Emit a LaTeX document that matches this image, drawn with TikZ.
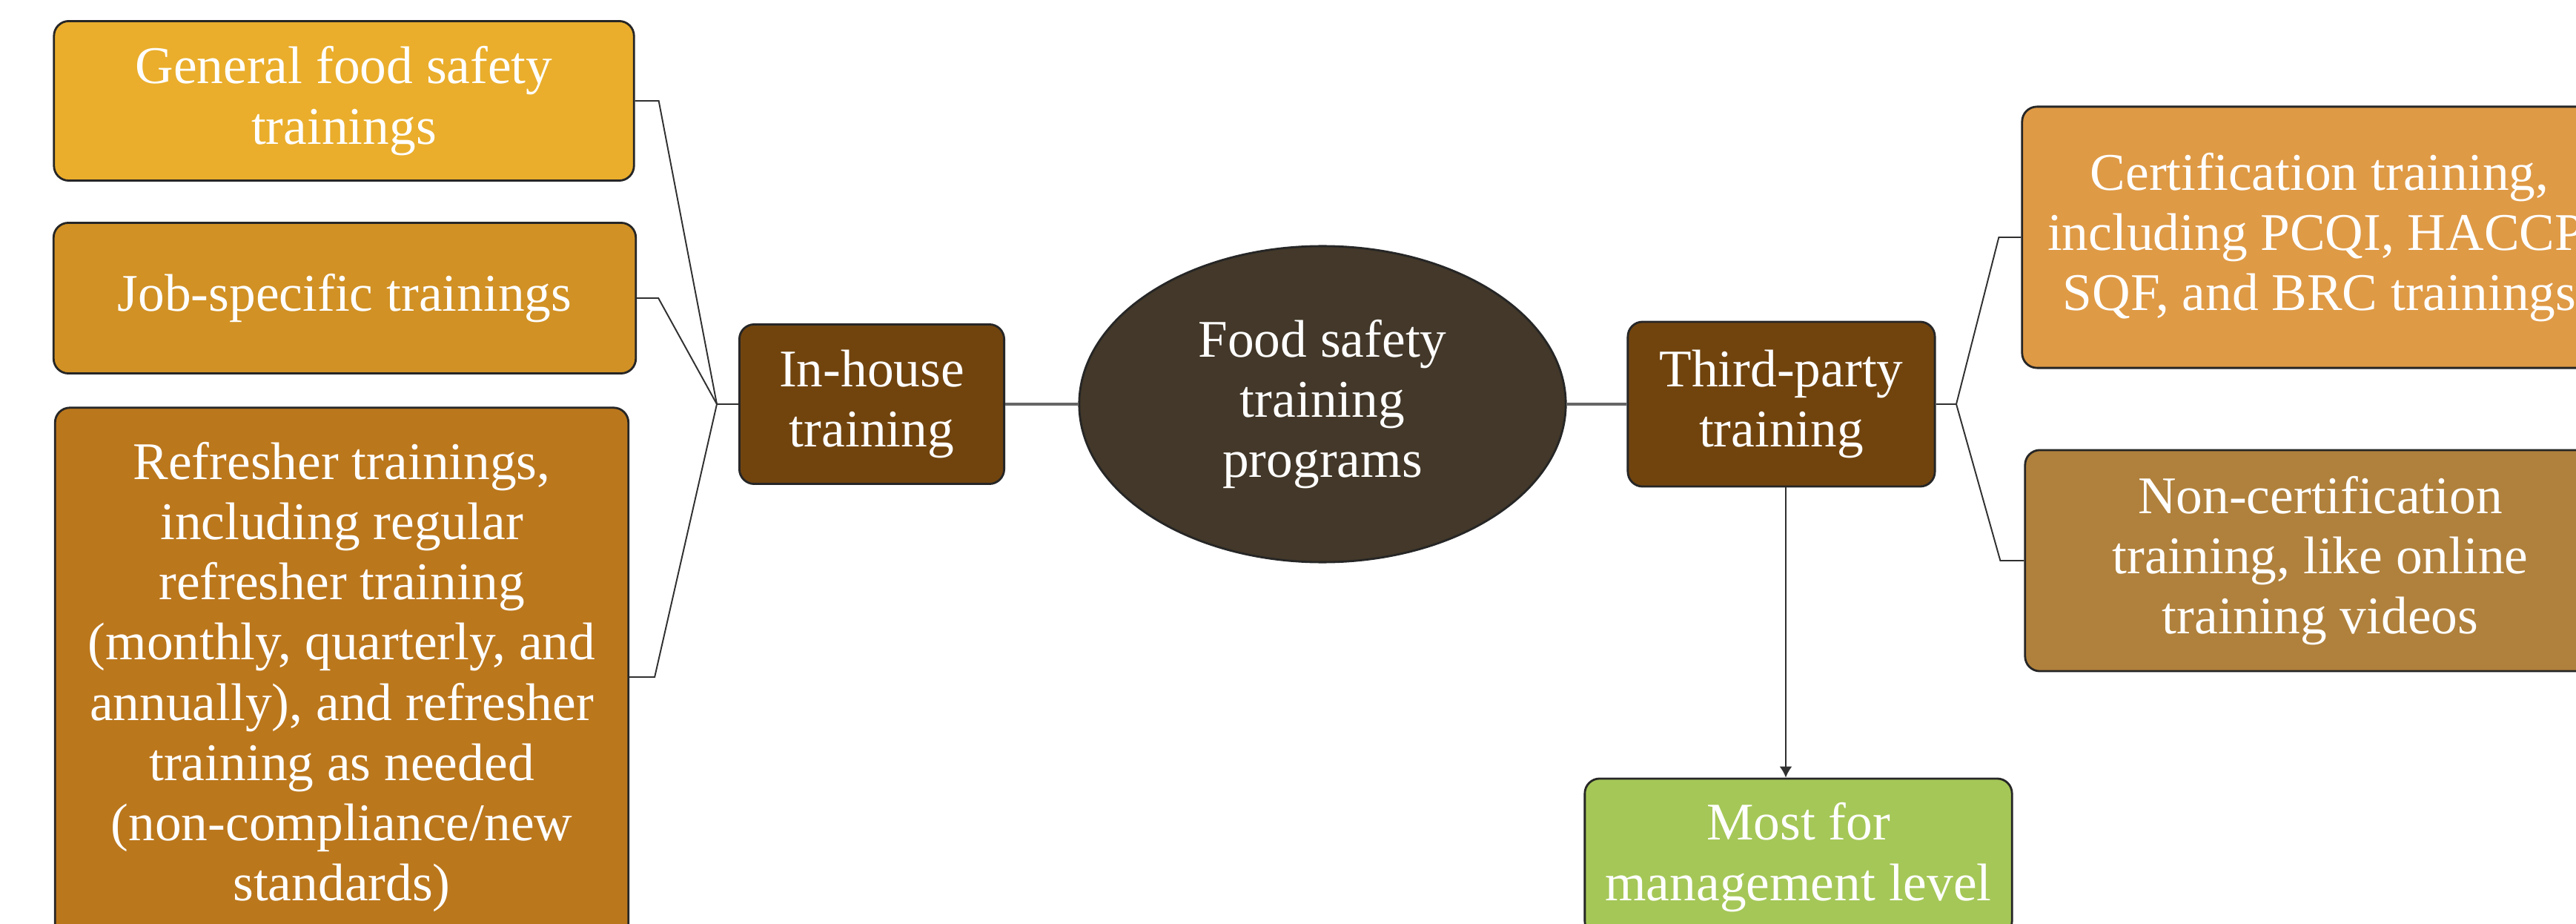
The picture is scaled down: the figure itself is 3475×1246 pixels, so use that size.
\documentclass[tikz,border=0pt]{standalone}
\usepackage{fontspec}
\setmainfont{Liberation Serif}
\usetikzlibrary{calc,arrows.meta,shapes.geometric}
\definecolor{cGen}{HTML}{EAAE2C}
\definecolor{cJob}{HTML}{D19124}
\definecolor{cRef}{HTML}{BB771C}
\definecolor{cMid}{HTML}{71440E}
\definecolor{cEll}{HTML}{433829}
\definecolor{cCert}{HTML}{DF9A45}
\definecolor{cNon}{HTML}{B0813C}
\definecolor{cGreen}{HTML}{A5C757}
\definecolor{cLine}{HTML}{303030}
\tikzset{
  box/.style={draw=black!85, line width=0.8pt, rounded corners=0.2cm, text=white,
    align=center, inner sep=0pt, font=\fontsize{20.3}{23.1}\selectfont},
  conn/.style={draw=cLine, line width=0.55pt},
  thickconn/.style={draw=black!60, line width=1.1pt},
}
\begin{document}
\begin{tikzpicture}[x=0.01cm,y=-0.01cm]
\useasboundingbox (0,0) rectangle (3475,1246);
\clip (0,0) rectangle (3475,1246);
\fill[white] (0,0) rectangle (3475,1246);

% left column
\node[box, fill=cGen, minimum width=7.82cm, minimum height=2.15cm] (gen) at (464,136) {General food safety\\trainings};
\node[box, fill=cJob, minimum width=7.85cm, minimum height=2.03cm] (job) at (465,402) {Job-specific trainings};
\node[box, fill=cRef, minimum width=7.73cm, minimum height=7.26cm] (ref) at (461,913) {Refresher trainings,\\including regular\\refresher training\\(monthly, quarterly, and\\annually), and refresher\\training as needed\\(non-compliance/new\\standards)};

% middle
\node[box, fill=cMid, minimum width=3.57cm, minimum height=2.15cm] (inh) at (1176,545) {In-house\\training};
\node[box, ellipse, rounded corners=0pt, fill=cEll, minimum width=6.56cm, minimum height=4.26cm] (ell) at (1784,545) {Food safety\\training\\programs};
\node[box, fill=cMid, minimum width=4.14cm, minimum height=2.22cm] (third) at (2403,545) {Third-party\\training};

% right column
\node[box, fill=cCert, minimum width=8.02cm, minimum height=3.52cm] (cert) at (3129,320) {Certification training,\\including PCQI, HACCP,\\SQF, and BRC trainings};
\node[box, fill=cNon, minimum width=7.96cm, minimum height=2.98cm] (non) at (3130,756) {Non-certification\\training, like online\\training videos};

% bottom
\node[box, fill=cGreen, minimum width=5.76cm, minimum height=2.12cm] (mgmt) at (2426,1156) {Most for\\management level};

% junctions
\coordinate (J1) at (967,545);
\coordinate (J2) at (2639,545);

% connectors
\draw[thickconn] (inh.east) -- (ell.west);
\draw[thickconn] (ell.east) -- (third.west);
\draw[conn] (inh.west) -- (J1);
\draw[conn] (J1) -- ($(gen.east)+(32,0)$) -- (gen.east);
\draw[conn] (J1) -- ($(job.east)+(29,0)$) -- (job.east);
\draw[conn] (J1) -- ($(ref.east)+(34,0)$) -- (ref.east);
\draw[conn] (third.east) -- (J2);
\draw[conn] (J2) -- ($(cert.west)+(-30,0)$) -- (cert.west);
\draw[conn] (J2) -- ($(non.west)+(-32,0)$) -- (non.west);
\draw[conn, -{Latex[length=0.15cm,width=0.17cm]}] ($(third.south)+(6,0)$) -- ($(third.south |- mgmt.north)+(6,0)$);
\end{tikzpicture}
\end{document}
